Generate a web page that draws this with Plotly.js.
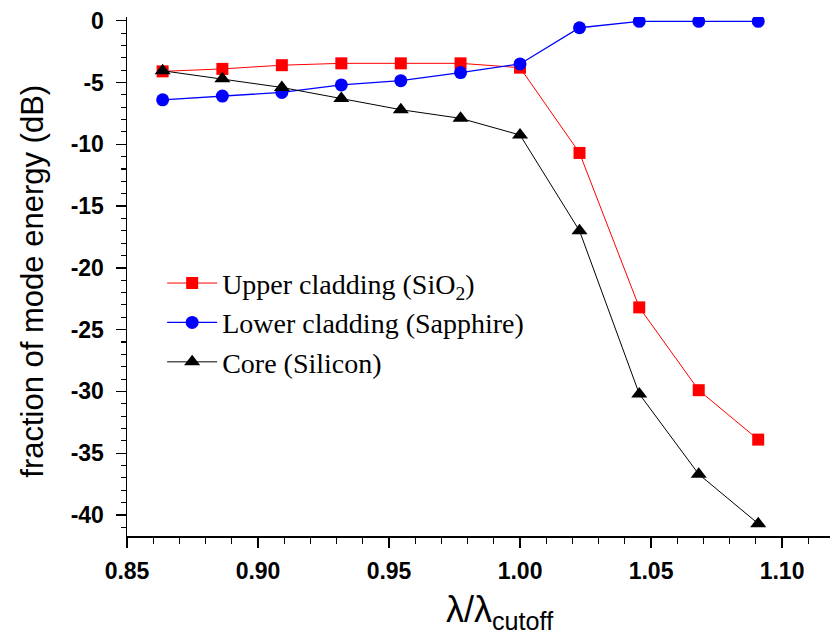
<!DOCTYPE html>
<html>
<head>
<meta charset="utf-8">
<script src="https://cdn.plot.ly/plotly-3.0.1.min.js"></script>
<style>
html,body{margin:0;padding:0;background:#fff;}
#chart{width:830px;height:636px;}
</style>
</head>
<body>
<div id="chart"></div>
<script>
var ratio = [0.8636, 0.8864, 0.9091, 0.9318, 0.9545, 0.9773, 1.0000, 1.0227, 1.0455, 1.0682, 1.0909];
var upperCladding = [-4.1, -3.9, -3.6, -3.45, -3.45, -3.45, -3.8, -10.7, -23.2, -29.9, -33.9];
var lowerCladding = [-6.4, -6.1, -5.8, -5.2, -4.85, -4.2, -3.5, -0.57, -0.05, -0.05, -0.05];
var core = [-4.05, -4.7, -5.4, -6.3, -7.2, -7.9, -9.25, -17.0, -30.2, -36.7, -40.7];
var yTickVals = [0, -5, -10, -15, -20, -25, -30, -35, -40];
var yTickText = ["0", "-5", "-10", "-15", "-20", "-25", "-30", "-35", "-40"];
var xTickVals = [0.85, 0.90, 0.95, 1.00, 1.05, 1.10];
var xTickText = ["0.85", "0.90", "0.95", "1.00", "1.05", "1.10"];
var xTitle = "λ/λ<sub>cutoff</sub>";
var yTitle = "fraction of mode energy (dB)";

var tickFont = {family: "Liberation Sans, Arial", size: 23, color: "#000", weight: "bold"};

var traces = [
  {x: ratio, y: upperCladding, name: "Upper cladding (SiO<sub>2</sub>)", mode: "lines+markers",
   line: {color: "#ff0000", width: 1}, marker: {symbol: "square", size: 12, color: "#ff0000"}},
  {x: ratio, y: lowerCladding, name: "Lower cladding (Sapphire)", mode: "lines+markers",
   line: {color: "#0000ff", width: 1.3}, marker: {symbol: "circle", size: 13, color: "#0000ff"}},
  {x: ratio, y: core, name: "Core (Silicon)", mode: "lines+markers",
   line: {color: "#000000", width: 1}, marker: {symbol: "triangle-up", size: 14, color: "#000000"}}
];

var layout = {
  width: 830, height: 636,
  margin: {l: 127, r: 0, t: 17, b: 100},
  paper_bgcolor: "#fff", plot_bgcolor: "#fff",
  showlegend: true,
  legend: {x: 0.05, y: 0.535, xanchor: "left", yanchor: "top",
           font: {family: "Liberation Serif, Times New Roman, serif", size: 28, color: "#000"},
           bgcolor: "rgba(0,0,0,0)", tracegroupgap: 0, itemwidth: 50},
  xaxis: {
    range: [0.85, 1.1183], showgrid: false, zeroline: false,
    showline: true, linecolor: "#000", linewidth: 1.5,
    ticks: "outside", ticklen: 10, tickwidth: 1.3, tickcolor: "#000", ticklabelstandoff: 4,
    tickvals: xTickVals, ticktext: xTickText, tickfont: tickFont,
    minor: {dtick: 0.01, tick0: 0.85, ticks: "outside", ticklen: 6, tickwidth: 1.1, tickcolor: "#000"}
  },
  yaxis: {
    range: [-41.7, 0.3], showgrid: false, zeroline: false,
    showline: true, linecolor: "#000", linewidth: 1.5,
    ticks: "outside", ticklen: 10, tickwidth: 1.3, tickcolor: "#000", ticklabelstandoff: 7,
    tickvals: yTickVals, ticktext: yTickText, tickfont: tickFont,
    minor: {dtick: 1, tick0: 0, ticks: "outside", ticklen: 5, tickwidth: 1.1, tickcolor: "#000"}
  },
  annotations: [
    {text: xTitle, xref: "paper", yref: "paper", x: 0.5306, y: -0.098, xanchor: "center", yanchor: "top",
     showarrow: false, font: {family: "Liberation Sans, Arial", size: 36, color: "#000"}},
    {text: yTitle, xref: "paper", yref: "paper", x: -0.1337, y: 0.49, xanchor: "center", yanchor: "middle",
     textangle: -90, showarrow: false, font: {family: "Liberation Sans, Arial", size: 31, color: "#000"}}
  ]
};

Plotly.newPlot("chart", traces, layout, {displayModeBar: false, staticPlot: true});
</script>
</body>
</html>
